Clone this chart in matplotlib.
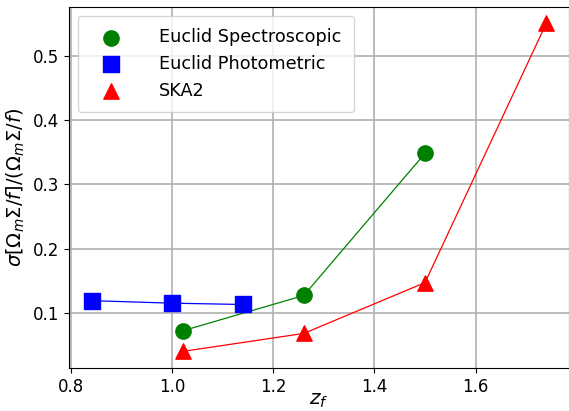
import matplotlib
matplotlib.use("Agg")
import matplotlib.pyplot as plt

# Dados
z_spec = [1.02, 1.26, 1.50]
sig_spec = [0.072, 0.127, 0.348]

z_phot = [0.84, 1.00, 1.14]
sig_phot = [0.119, 0.115, 0.113]

z_ska = [1.02, 1.26, 1.50, 1.74]
sig_ska = [0.040, 0.068, 0.147, 0.550]

fig = plt.figure(figsize=(5.69, 4.11), dpi=100)
ax = fig.add_axes([0.121, 0.105, 0.879, 0.878])

# linhas finas ligando os pontos
ax.plot(z_spec, sig_spec, '-', color='green', lw=0.9)
ax.plot(z_phot, sig_phot, '-', color='blue', lw=0.9)
ax.plot(z_ska, sig_ska, '-', color='red', lw=0.9)

# marcadores (so eles aparecem na legenda)
ax.scatter(z_spec, sig_spec, marker='o', color='green', s=121, zorder=3, label='Euclid Spectroscopic')
ax.scatter(z_phot, sig_phot, marker='s', color='blue', s=121, zorder=3, label='Euclid Photometric')
ax.scatter(z_ska, sig_ska, marker='^', color='red', s=121, zorder=3, label='SKA2')

ax.grid(True, color='#b0b0b0', lw=1.2)
ax.set_axisbelow(True)
ax.tick_params(labelsize=12)
ax.set_xlabel(r'$z_f$', fontsize=14.5, labelpad=-3)
ax.set_ylabel(r'$\sigma[\Omega_m\Sigma/f]/(\Omega_m\Sigma/f)$', fontsize=14)
ax.legend(loc='upper left', fontsize=12.7, scatterpoints=1, handletextpad=1.5,
          borderpad=0.7, handlelength=2.4)

fig.savefig('out.png', dpi=100)
